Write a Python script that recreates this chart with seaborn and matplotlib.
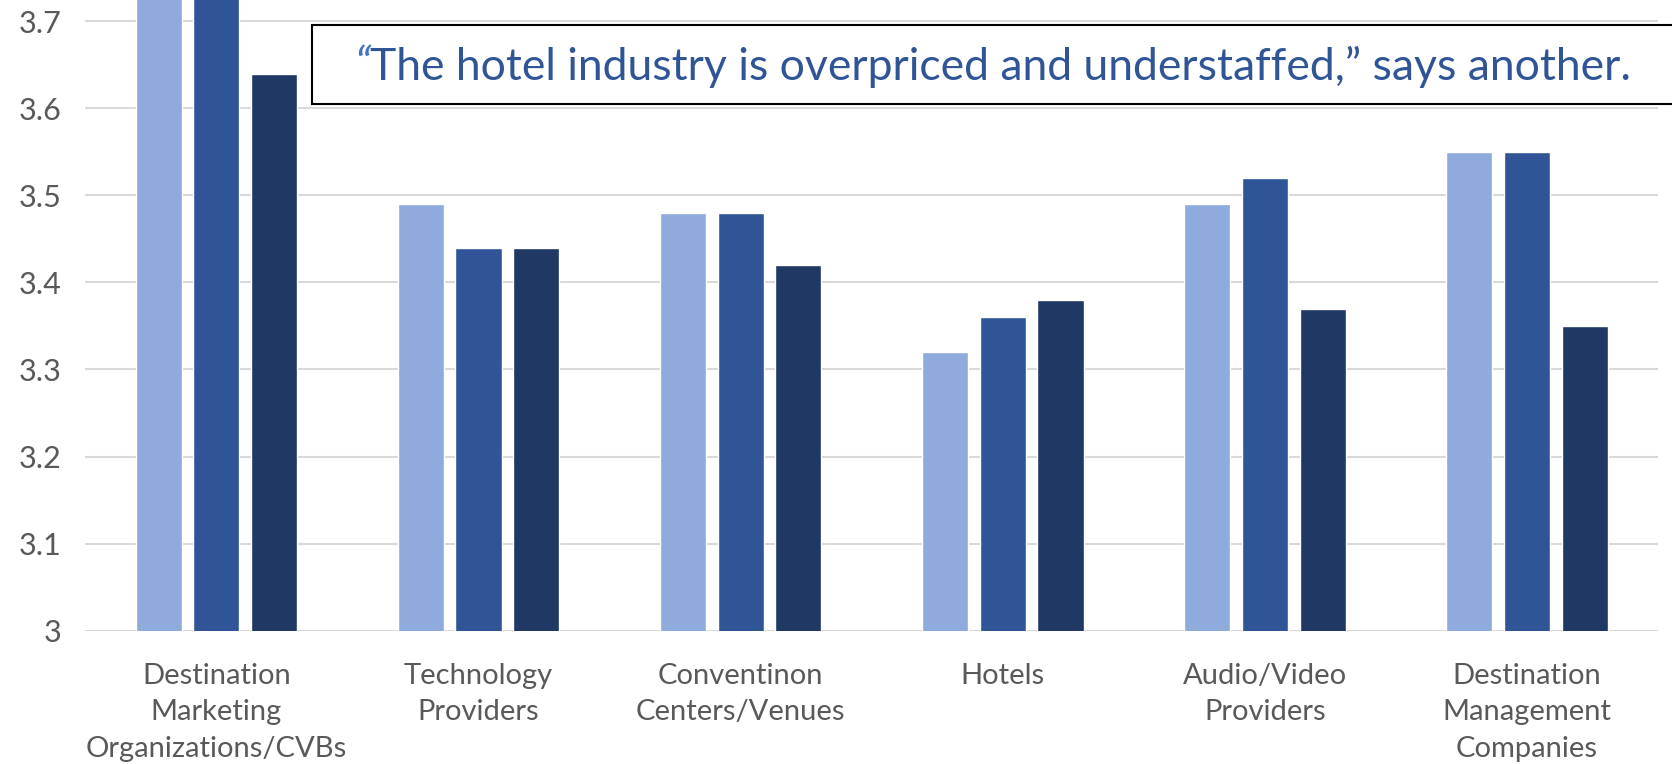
import matplotlib
matplotlib.use("Agg")
import matplotlib.pyplot as plt
import matplotlib.patches as mpatches
import pandas as pd
import seaborn as sns

# ---------------------------------------------------------------------------
# Data (first two DMO bars run off the top)
# ---------------------------------------------------------------------------
categories = [
    "Destination\nMarketing\nOrganizations/CVBs",
    "Technology\nProviders",
    "Conventinon\nCenters/Venues",
    "Hotels",
    "Audio/Video\nProviders",
    "Destination\nManagement\nCompanies",
]
series_names = ["Series 1", "Series 2", "Series 3"]
series_1 = [3.78, 3.49, 3.48, 3.32, 3.49, 3.55]
series_2 = [3.80, 3.44, 3.48, 3.36, 3.52, 3.55]
series_3 = [3.64, 3.44, 3.42, 3.38, 3.37, 3.35]
y_ticks = [3.0, 3.1, 3.2, 3.3, 3.4, 3.5, 3.6, 3.7]
y_tick_labels = ["3", "3.1", "3.2", "3.3", "3.4", "3.5", "3.6", "3.7"]
quote_mark = "\u201c"
quote_text = "The hotel industry is overpriced and understaffed,\u201d says another."

COLORS = ["#8FAADC", "#2F5597", "#203864"]
GRID_COLOR = "#D9D9D9"
LABEL_COLOR = "#595959"

df = pd.DataFrame({
    "category": categories * 3,
    "series": [s for s in series_names for _ in categories],
    "value": series_1 + series_2 + series_3,
})

sns.set_theme(style="white")
plt.rcParams["font.family"] = ["Lato", "DejaVu Sans"]

fig = plt.figure(figsize=(16.72, 7.64), dpi=100)
ax = fig.add_axes([0.051, 0.1746, 0.9407, 0.8254])

sns.barplot(
    data=df,
    x="category",
    y="value",
    hue="series",
    hue_order=series_names,
    order=categories,
    palette=COLORS,
    width=0.66,
    gap=0.2,
    saturation=1,
    legend=False,
    ax=ax,
)

ax.set_ylim(3.0, 3.7245)
ax.set_xlim(-0.5, len(categories) - 0.5)
ax.set_yticks(y_ticks)
ax.set_yticklabels(y_tick_labels)
ax.yaxis.grid(True, color=GRID_COLOR, linewidth=1.5)
ax.set_axisbelow(True)
for side in ["top", "right", "left", "bottom"]:
    ax.spines[side].set_visible(False)
ax.tick_params(axis="y", length=0, pad=17, labelsize=22, labelcolor=LABEL_COLOR)
ax.tick_params(axis="x", length=0, pad=23, labelsize=21, labelcolor=LABEL_COLOR)
for lbl in ax.get_xticklabels():
    lbl.set_linespacing(1.5)
ax.set_xlabel("")
ax.set_ylabel("")

# quote box overlapping the plot, running off the right edge
box = mpatches.Rectangle(
    (312 / 1672, 1 - 104 / 764), 1.0, (104 - 25) / 764,
    transform=fig.transFigure, facecolor="white", edgecolor="black",
    linewidth=1.5, zorder=10, clip_on=False,
)
ax.add_patch(box)
qm = ax.text(
    354 / 1672, 1 - 80 / 764, quote_mark, transform=fig.transFigure,
    color="#4472C4", fontsize=33, style="italic", va="baseline", ha="left",
    zorder=11, clip_on=False,
)
ax.annotate(
    quote_text, xy=(1, 0), xycoords=qm, color="#2F5597", fontsize=32,
    va="bottom", ha="left", annotation_clip=False, zorder=11,
)

fig.savefig("out.png", dpi=100)
